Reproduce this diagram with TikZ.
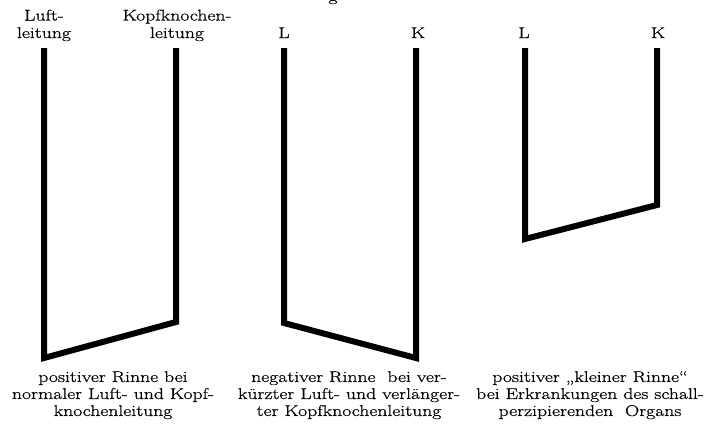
\documentclass[tikz,border=0pt]{standalone}
\usepackage{fontspec}
\setmainfont{Latin Modern Roman}[FakeStretch=1.27, FakeBold=0.6]
\begin{document}
\begin{tikzpicture}[x=1pt,y=-1pt,
  bar/.style={line width=6pt, line join=miter, line cap=butt},
  headtext/.style={font=\fontsize{15.5}{17.5}\selectfont, align=center, inner sep=0pt, anchor=base},
  captext/.style={font=\fontsize{15.5}{17}\selectfont, align=center, inner sep=0pt, anchor=north}]
\useasboundingbox (0,0) rectangle (706,424);

% descender of the heading line above
\node[headtext] (head) at (333,1) {g};

% first curve: normal air and bone conduction
\coordinate (L1t) at (44,48);
\coordinate (L1b) at (44,358);
\coordinate (K1b) at (176,322);
\coordinate (K1t) at (176,48);
\draw[bar] (L1t) -- (L1b) -- (K1b) -- (K1t);
\node[headtext] (l1) at (44,38) {Luft-\\leitung};
\node[headtext] (k1) at (177,38) {Kopfknochen-\\leitung};
\node[captext] (c1) at (113,371) {positiver Rinne bei\\normaler Luft- und Kopf-\\knochenleitung};

% second curve: shortened air, lengthened bone conduction
\coordinate (L2t) at (284,48);
\coordinate (L2b) at (284,323);
\coordinate (K2b) at (416,358);
\coordinate (K2t) at (416,48);
\draw[bar] (L2t) -- (L2b) -- (K2b) -- (K2t);
\node[headtext] (l2) at (284,38) {L};
\node[headtext] (k2) at (418,38) {K};
\node[captext] (c2) at (349,371) {negativer Rinne\ \ bei ver-\\kürzter Luft- und verlänger-\\ter Kopfknochenleitung};

% third curve: sound-perceiving organ affected
\coordinate (L3t) at (525,48);
\coordinate (L3b) at (525,239);
\coordinate (K3b) at (657,205);
\coordinate (K3t) at (657,48);
\draw[bar] (L3t) -- (L3b) -- (K3b) -- (K3t);
\node[headtext] (l3) at (524,38) {L};
\node[headtext] (k3) at (658,38) {K};
\node[captext] (c3) at (590,371) {positiver „kleiner Rinne“\\bei Erkrankungen des schall-\\perzipierenden\ \ Organs};
\end{tikzpicture}
\end{document}
